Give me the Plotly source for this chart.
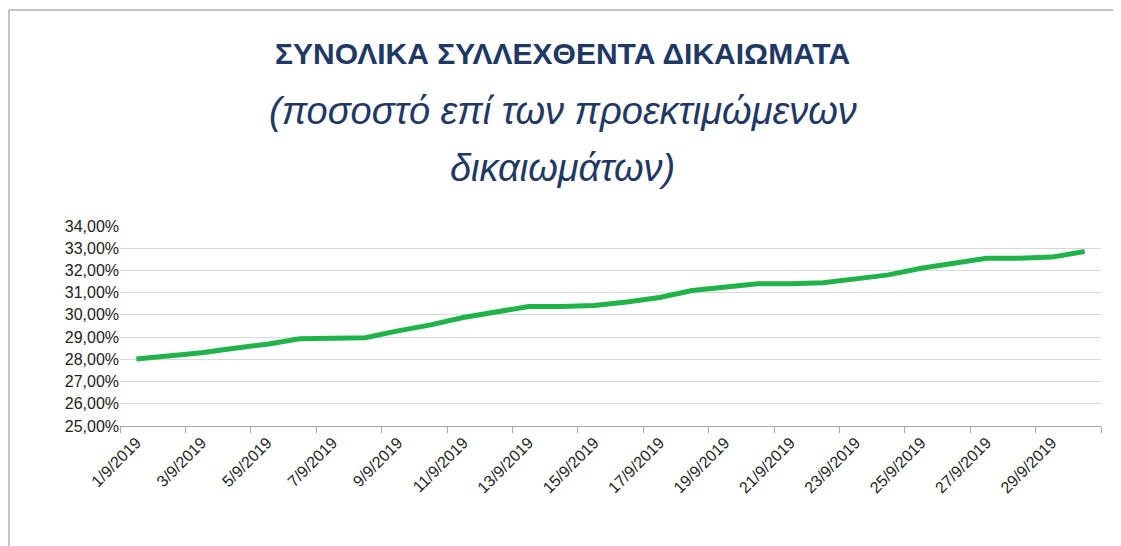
import plotly.graph_objects as go

dates = [f"{d}/9/2019" for d in range(1, 31)]
share = [28.02, 28.15, 28.30, 28.50, 28.68, 28.93, 28.93, 28.97, 29.28, 29.55,
         29.88, 30.15, 30.38, 30.38, 30.42, 30.58, 30.78, 31.10, 31.25, 31.40,
         31.40, 31.45, 31.62, 31.80, 32.10, 32.32, 32.55, 32.55, 32.60, 32.85]
y_ticks = [25 + i for i in range(10)]
title_lines = ["<b>ΣΥΝΟΛΙΚΑ ΣΥΛΛΕΧΘΕΝΤΑ ΔΙΚΑΙΩΜΑΤΑ</b>",
               "<i>(ποσοστό επί των προεκτιμώμενων</i>",
               "<i>δικαιωμάτων)</i>"]

W, H = 1121, 546
L, R, T, B = 112, 28, 218, 128
pw, ph = W - L - R, H - T - B

fig = go.Figure()
fig.add_trace(go.Scatter(
    x=list(range(len(dates))), y=[v / 100 for v in share],
    mode="lines", line=dict(color="#1FB34A", width=5), showlegend=False,
))

navy = "#1F3864"
fig.update_layout(
    width=W, height=H, margin=dict(l=L, r=R, t=T, b=B, autoexpand=False),
    paper_bgcolor="white", plot_bgcolor="white",
    separators=",.",
    font=dict(family="Liberation Sans", color="#222"),
    xaxis=dict(
        range=[-0.5, 29.5], automargin=False,
        tickvals=list(range(0, 30, 2)),
        ticktext=dates[::2],
        tickangle=-45, tickfont=dict(size=16, color="#222"),
        showgrid=False, showline=True, linecolor="#A6A6A6",
        ticks="", zeroline=False,
        minor=dict(tick0=-0.5, dtick=2, ticks="outside", ticklen=6, tickcolor="#A6A6A6"),
    ),
    yaxis=dict(
        range=[0.25, 0.34], automargin=False,
        tickvals=[v / 100 for v in y_ticks],
        tickformat=".2%",
        tickfont=dict(size=16, color="#222"),
        showgrid=True, gridcolor="#D9D9D9", gridwidth=1,
        zeroline=False, showline=False,
    ),
)

# title lines placed like the Excel chart title
for txt, ypx, size in zip(title_lines, [46, 103, 160], [30, 38, 38]):
    fig.add_annotation(
        text=txt, xref="paper", yref="paper", showarrow=False,
        x=(W / 2 - 6 - L) / pw, y=(H - ypx - B) / ph,
        xanchor="center", yanchor="middle",
        font=dict(size=size, color=navy, family="Liberation Sans"),
    )

fig.add_shape(
    type="rect", xref="paper", yref="paper",
    x0=(1 - L) / pw, x1=(W - 2 - L) / pw,
    y0=-(B - 2) / ph, y1=(H - 2 - B) / ph,
    line=dict(color="#888888", width=1),
)

fig.write_html("out.html")
